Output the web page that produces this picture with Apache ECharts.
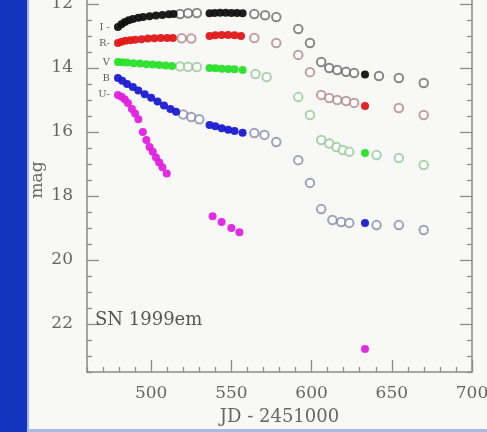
<!DOCTYPE html>
<html>
<head>
<meta charset="utf-8">
<script src="https://cdn.jsdelivr.net/npm/echarts@6/dist/echarts.min.js"></script>
<style>
  html, body { margin: 0; padding: 0; background: #f8f8f7; }
  #chart { width: 487px; height: 432px; filter: blur(0.6px); }
</style>
</head>
<body>
<div id="chart"></div>
<script>
// ---- data (JD - 2451000, magnitude) ----
const bandNames = ['I -', 'R-', 'V', 'B', 'U-'];
const xMajorTicks = [500, 550, 600, 650, 700];
const yMajorTicks = [12, 14, 16, 18, 20, 22];

const iFilled = [[479.3,12.72],[481.5,12.63],[483.6,12.56],[486,12.51],[488.6,12.47],[492,12.43],[495,12.41],[499,12.38],[503,12.36],[507,12.34],[511,12.32],[514,12.31],[536.4,12.29],[539.5,12.28],[543,12.27],[546.5,12.27],[550,12.28],[553.5,12.28],[557,12.29],[633.3,14.2]];
const iOpen = [[518,12.31],[523,12.29],[528.5,12.28],[564.3,12.31],[571,12.35],[578,12.41],[591.7,12.78],[599,13.22],[606,13.81],[611,14.0],[616,14.06],[621.5,14.12],[626.5,14.16],[642,14.25],[654.4,14.31],[669.9,14.47]];

const rFilled = [[479.3,13.22],[481.5,13.18],[484,13.15],[487,13.13],[490,13.12],[494,13.1],[498,13.08],[502,13.07],[506,13.06],[510,13.06],[513.5,13.06],[536.4,13.0],[540,12.98],[544,12.97],[548,12.97],[552,12.98],[556,13.0],[633.3,15.19]];
const rOpen = [[519,13.07],[525,13.08],[564.3,13.06],[578,13.22],[591.7,13.59],[599,14.13],[606,14.84],[611,14.94],[616,15.0],[621.5,15.03],[626.5,15.09],[654.4,15.25],[669.9,15.47]];

const vFilled = [[479.3,13.81],[482,13.82],[485,13.83],[489,13.85],[493,13.86],[497,13.88],[501,13.89],[505,13.91],[509,13.92],[513,13.94],[536.4,14.0],[540,14.01],[544,14.02],[548,14.03],[552,14.04],[557,14.06],[633.3,16.66]];
const vOpen = [[518,13.95],[523,13.96],[528.5,13.97],[565,14.19],[572,14.28],[591.7,14.91],[599,15.47],[606,16.25],[611,16.36],[615.5,16.47],[619.5,16.56],[623.5,16.62],[640.5,16.72],[654.4,16.81],[669.9,17.03]];

const bFilled = [[479.3,14.31],[482,14.4],[485,14.5],[488.6,14.59],[492,14.7],[496,14.82],[500,14.93],[504,15.05],[508,15.17],[512,15.28],[515.5,15.37],[536.4,15.78],[540,15.82],[544,15.88],[548,15.93],[552,15.97],[557,16.02],[633.3,18.84]];
const bOpen = [[520,15.45],[525,15.53],[530,15.6],[564.3,16.03],[570.6,16.09],[578,16.31],[591.7,16.88],[599,17.59],[606,18.41],[613,18.75],[618.5,18.81],[623.5,18.84],[640.5,18.91],[654.4,18.91],[669.9,19.06]];

const uFilled = [[479.3,14.84],[481.5,14.9],[483.5,14.98],[485.5,15.09],[488,15.28],[490,15.42],[492,15.6],[494.8,16.0],[497,16.25],[499,16.47],[501,16.62],[503,16.8],[505,16.95],[507,17.1],[509.7,17.3],[538.3,18.63],[543.9,18.81],[550,19.0],[555,19.13],[633.3,22.78]];

// ---- helpers ----
const xMinorTicks = [];
for (let v = 460; v <= 700; v += 10) if (v % 50 !== 0) xMinorTicks.push(v);
const yMinorTicks = [];
for (let v = 10.5; v <= 23.5; v += 0.5) if (v % 2 !== 0) yMinorTicks.push(v);

const serif = 'DejaVu Serif';
const axisCol = '#8a8a8a';
const labelCol = '#666666';

function xAxisDef(ticks, len, showLine, showLabel) {
  return {
    type: 'value', position: 'bottom', min: 460, max: 700,
    axisLine: { show: showLine, onZero: false, lineStyle: { color: axisCol, width: 1.5 } },
    axisTick: { show: true, inside: true, length: len, customValues: ticks, lineStyle: { color: axisCol, width: 1.3 } },
    axisLabel: showLabel ? { show: true, customValues: ticks, margin: 13, color: labelCol, fontFamily: serif, fontSize: 17 } : { show: false },
    splitLine: { show: false }
  };
}
function yAxisDef(pos, ticks, len, showLine, showLabel) {
  return {
    type: 'value', position: pos, min: 10, max: 23.5, inverse: true,
    axisLine: { show: showLine, onZero: false, lineStyle: { color: axisCol, width: 1.5 } },
    axisTick: { show: true, inside: true, length: len, customValues: ticks, lineStyle: { color: axisCol, width: 1.3 } },
    axisLabel: showLabel ? { show: true, customValues: ticks, margin: 14, color: labelCol, fontFamily: serif, fontSize: 17 } : { show: false },
    splitLine: { show: false }
  };
}

function filledSeries(data, color, label) {
  return {
    type: 'scatter', data: data, symbol: 'circle', symbolSize: 8,
    itemStyle: { color: color, opacity: 0.95 },
    label: {
      show: label !== null, position: 'left', distance: 4,
      formatter: p => (p.dataIndex === 0 ? label : ''),
      color: '#555', fontFamily: serif, fontSize: 10
    },
    z: 3
  };
}
function openSeries(data, color) {
  return {
    type: 'scatter', data: data, symbol: 'emptyCircle', symbolSize: 8.5,
    itemStyle: { color: color, borderColor: color, borderWidth: 1.3 },
    z: 2
  };
}

const chart = echarts.init(document.getElementById('chart'), null, { renderer: 'canvas' });
chart.setOption({
  backgroundColor: '#f8f8f7',
  animation: false,
  grid: { left: 87, right: 15, top: -60, bottom: 60, containLabel: false, outerBoundsMode: 'none' },
  xAxis: [
    Object.assign(xAxisDef(xMajorTicks, 12, true, true), {
      name: 'JD - 2451000', nameLocation: 'middle', nameGap: 36,
      nameTextStyle: { color: labelCol, fontFamily: serif, fontSize: 18 }
    }),
    xAxisDef(xMinorTicks, 5, false, false)
  ],
  yAxis: [
    yAxisDef('left', yMajorTicks, 12, true, true),
    yAxisDef('left', yMinorTicks, 5, false, false),
    yAxisDef('right', yMajorTicks, 12, true, false),
    yAxisDef('right', yMinorTicks, 5, false, false)
  ],
  graphic: [
    { type: 'rect', left: 0, top: 0, shape: { width: 27, height: 432 }, style: { fill: '#1534bd' }, z: 100 },
    { type: 'rect', left: 27, top: 0, shape: { width: 2, height: 432 }, style: { fill: '#a3b3e6' }, z: 100 },
    { type: 'rect', left: 27, top: 429, shape: { width: 460, height: 3 }, style: { fill: '#a9bbe0' }, z: 100 },
    { type: 'text', left: 95, top: 311, style: { text: 'SN 1999em', font: '18px "DejaVu Serif"', fill: '#555' }, z: 50 },
    { type: 'text', x: 38, y: 180, rotation: Math.PI / 2, style: { text: 'mag', font: '17px "DejaVu Serif"', fill: labelCol, align: 'center', verticalAlign: 'middle' }, z: 50 }
  ],
  series: [
    openSeries(iOpen, '#6a6a6a'),
    openSeries(rOpen, '#b08888'),
    openSeries(vOpen, '#98c898'),
    openSeries(bOpen, '#8a8aa8'),
    filledSeries(iFilled, '#111111', bandNames[0]),
    filledSeries(rFilled, '#e01818', bandNames[1]),
    filledSeries(vFilled, '#28e028', bandNames[2]),
    filledSeries(bFilled, '#1a1ad0', bandNames[3]),
    filledSeries(uFilled, '#e020e0', bandNames[4])
  ]
});
</script>
</body>
</html>
